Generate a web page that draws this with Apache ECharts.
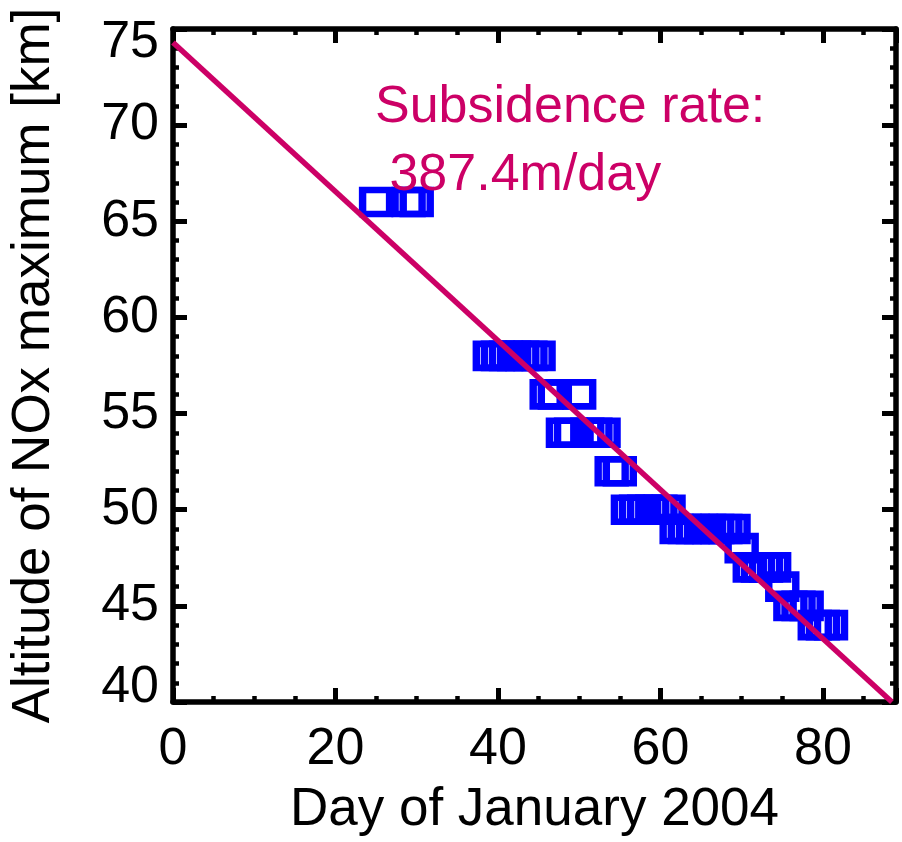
<!DOCTYPE html>
<html>
<head>
<meta charset="utf-8">
<title>Altitude of NOx maximum</title>
<script src="https://cdn.jsdelivr.net/npm/echarts@6/dist/echarts.min.js"></script>
<style>
  html, body { margin: 0; padding: 0; background: #fff; }
  #chart { width: 902px; height: 842px; }
</style>
</head>
<body>
<div id="chart"></div>
<script>
// observed altitude of the NOx maximum (km), by day of January 2004
let obsDays = [
  25, 29, 30,
  39, 40, 41, 42, 43, 44, 45,
  46, 47, 50,
  48, 49, 51, 52, 53,
  54, 55,
  56, 57, 58, 59, 60, 61,
  62, 63, 64, 65, 66, 67, 68, 69,
  70,
  71, 72, 73, 74,
  75,
  76, 77, 78,
  79, 80, 81
]
let obsAltitude = [
  66, 66, 66,
  58, 58, 58, 58, 58, 58, 58,
  56, 56, 56,
  54, 54, 54, 54, 54,
  52, 52,
  50, 50, 50, 50, 50, 50,
  49, 49, 49, 49, 49, 49, 49, 49,
  48,
  47, 47, 47, 47,
  46,
  45, 45, 45,
  44, 44, 44
]
// linear fit, 387.4 m/day
let fitDays = [0, 88.5]
let fitAltitude = [74.3, 40.0]

let xTicks = [0, 20, 40, 60, 80]
let yTicks = [40, 45, 50, 55, 60, 65, 70, 75]

let fontFamily = '"Liberation Sans", Arial, Helvetica, sans-serif'
let pink = '#cc0066'

function pairs(xs, ys) {
  let out = []
  for (let i = 0; i < xs.length; i++) {
    out.push([xs[i], ys[i]])
  }
  return out
}

function frameAxis(position, min, max, interval, minorSplit, showLabel, isY) {
  let axis = {
    type: 'value',
    position: position,
    min: min,
    max: max,
    interval: interval,
    axisLine: {show: true, onZero: false, lineStyle: {color: '#000', width: 5.5}},
    axisTick: {show: true, inside: true, length: 14, lineStyle: {color: '#000', width: 5}},
    minorTick: {show: true, splitNumber: minorSplit, length: 6, lineStyle: {color: '#000', width: 4.5}},
    splitLine: {show: false},
    axisLabel: {
      show: showLabel,
      color: '#000',
      fontFamily: fontFamily,
      fontSize: 52,
      showMaxLabel: isY,
      formatter: function (v) {
        let list = isY ? yTicks : xTicks
        return list.indexOf(v) >= 0 ? String(v) : ''
      }
    }
  }
  if (isY) {
    axis.axisLabel.margin = 14
    axis.axisLabel.lineHeight = 28
    axis.axisLabel.verticalAlignMaxLabel = 'top'
    axis.axisLabel.verticalAlignMinLabel = 'bottom'
  } else {
    axis.axisLabel.margin = 22
  }
  return axis
}

let chartDom = document.getElementById('chart')
let myChart = echarts.init(chartDom, null, {renderer: 'canvas'})

let xBottom = frameAxis('bottom', 0, 89, 20, 4, true, false)
xBottom.name = 'Day of January 2004'
xBottom.nameLocation = 'middle'
xBottom.nameGap = 82
xBottom.nameTextStyle = {color: '#000', fontFamily: fontFamily, fontSize: 53}

let yLeft = frameAxis('left', 40, 75, 5, 5, true, true)
yLeft.name = 'Altitude of NOx maximum [km]'
yLeft.nameLocation = 'middle'
yLeft.nameGap = 112
yLeft.nameTextStyle = {color: '#000', fontFamily: fontFamily, fontSize: 53}

let option = {
  animation: false,
  backgroundColor: '#fff',
  grid: {left: 169, right: 6, top: 29, bottom: 135, containLabel: false},
  xAxis: [xBottom, frameAxis('top', 0, 89, 20, 4, false, false)],
  yAxis: [yLeft, frameAxis('right', 40, 75, 5, 5, false, true)],
  series: [
    {
      type: 'scatter',
      xAxisIndex: 0,
      yAxisIndex: 0,
      symbol: 'rect',
      symbolSize: [27, 24],
      itemStyle: {color: 'rgba(0,0,0,0)', borderColor: '#0000ff', borderWidth: 7, opacity: 1},
      data: pairs(obsDays, obsAltitude),
      z: 2
    },
    {
      type: 'line',
      xAxisIndex: 0,
      yAxisIndex: 0,
      showSymbol: false,
      lineStyle: {color: pink, width: 5.5},
      data: pairs(fitDays, fitAltitude),
      z: 3
    }
  ],
  graphic: [
    {
      type: 'text',
      left: 375,
      top: 74,
      z: 10,
      style: {
        text: 'Subsidence rate:\n 387.4m/day',
        fill: pink,
        font: '52px ' + fontFamily,
        lineHeight: 68
      }
    }
  ]
}

myChart.setOption(option)
</script>
</body>
</html>
